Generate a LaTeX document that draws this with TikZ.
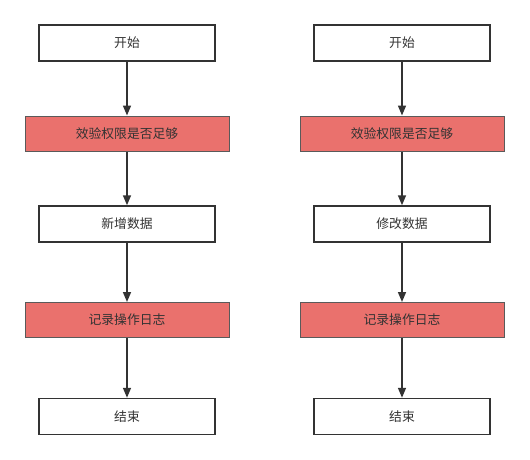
\documentclass[tikz,border=0pt]{standalone}
\usepackage{fontspec}
\setmainfont{Noto Sans CJK SC}
\usetikzlibrary{arrows.meta}
\definecolor{redfill}{HTML}{EA716D}
\definecolor{redline}{HTML}{5A5A5A}
\definecolor{txt}{HTML}{333333}
\definecolor{edge}{HTML}{333333}
\begin{document}
\begin{tikzpicture}[x=1pt,y=-1pt,
  whitebox/.style={draw=edge,fill=white,line width=1.5pt,minimum width=176pt,minimum height=36pt,inner sep=0pt,font=\fontsize{12.8}{14}\selectfont,text=txt},
  redbox/.style={draw=redline,fill=redfill,line width=1pt,minimum width=204pt,minimum height=35pt,inner sep=0pt,font=\fontsize{12.8}{14}\selectfont,text=txt},
  flow/.style={draw=edge,line width=1.5pt,-{Triangle[length=10pt,width=8pt]}}]
\useasboundingbox (0,0) rectangle (530,460);
\node[whitebox] (a1) at (127,43) {开始};
\node[redbox] (a2) at (127,133.5) {效验权限是否足够};
\node[whitebox] (a3) at (127,224) {新增数据};
\node[redbox] (a4) at (127,320) {记录操作日志};
\node[whitebox] (a5) at (127,416.5) {结束};
\node[whitebox] (b1) at (402,43) {开始};
\node[redbox] (b2) at (402,133.5) {效验权限是否足够};
\node[whitebox] (b3) at (402,224) {修改数据};
\node[redbox] (b4) at (402,320) {记录操作日志};
\node[whitebox] (b5) at (402,416.5) {结束};
\draw[flow] (a1) -- (a2);
\draw[flow] (a2) -- (a3);
\draw[flow] (a3) -- (a4);
\draw[flow] (a4) -- (a5);
\draw[flow] (b1) -- (b2);
\draw[flow] (b2) -- (b3);
\draw[flow] (b3) -- (b4);
\draw[flow] (b4) -- (b5);
\end{tikzpicture}
\end{document}
